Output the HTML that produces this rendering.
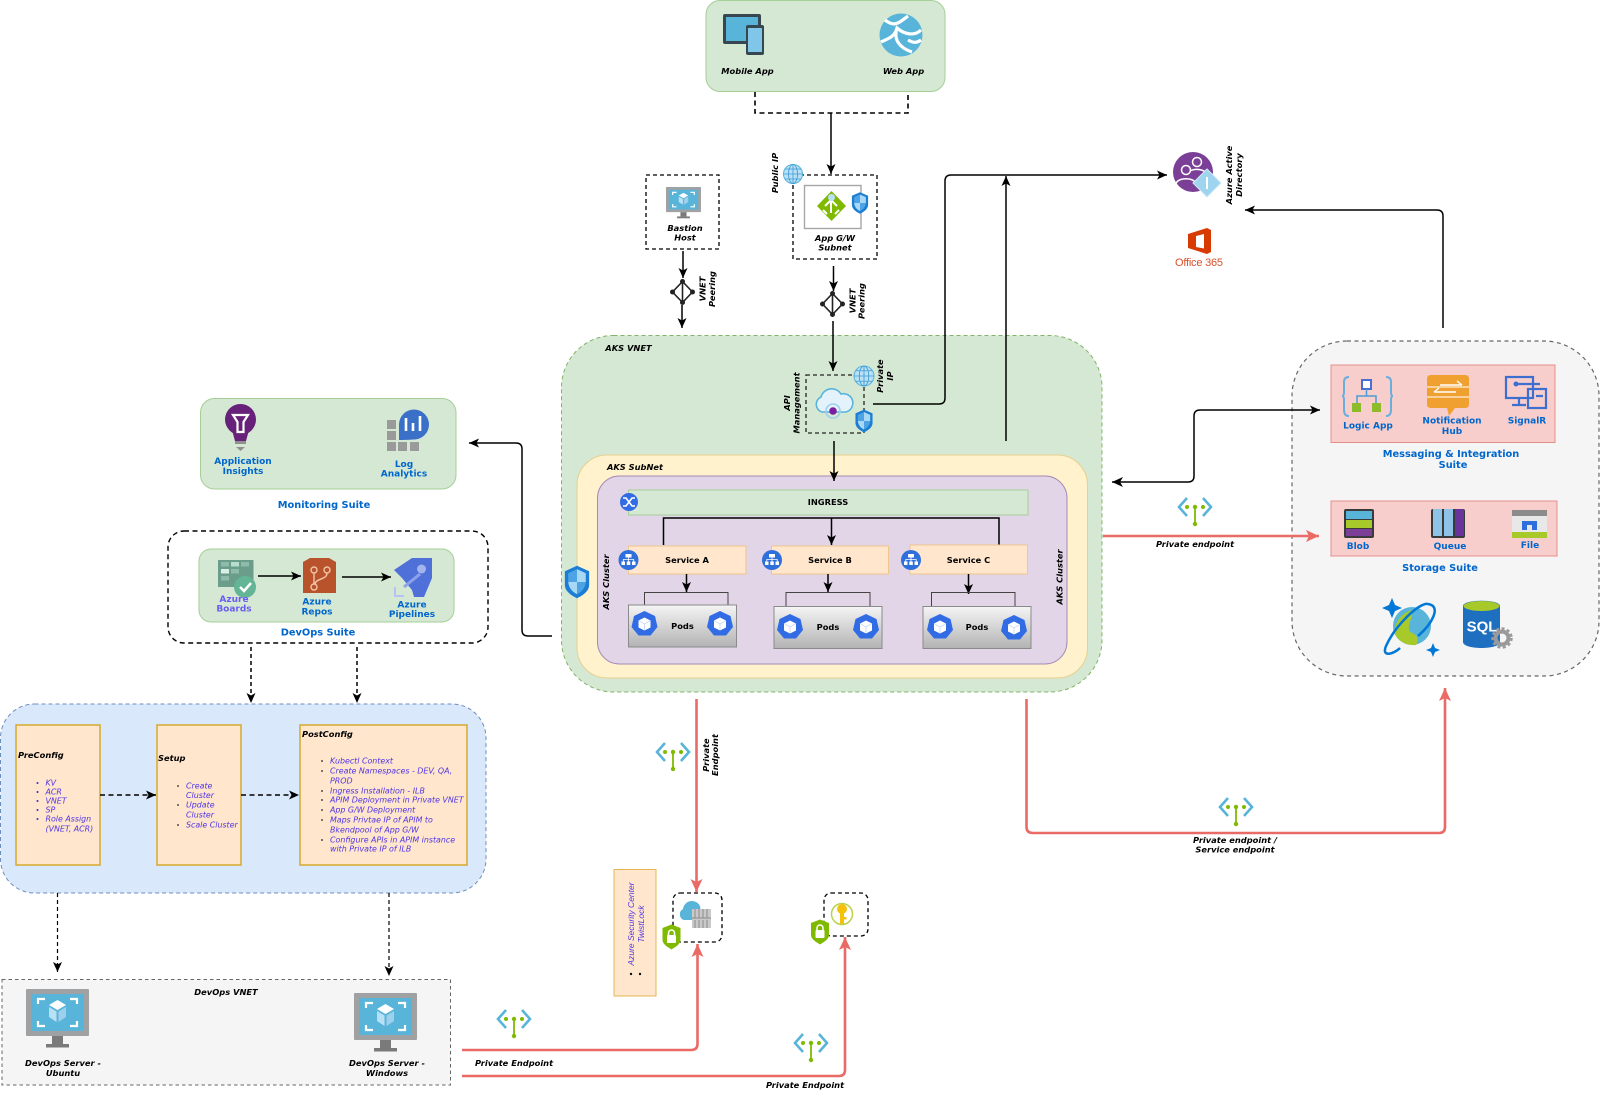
<!DOCTYPE html>
<html><head><meta charset="utf-8"><style>
html,body{margin:0;padding:0;background:#fff;width:1600px;height:1095px;overflow:hidden}
svg{display:block;filter:blur(.35px)}
text{font-family:"DejaVu Sans","Liberation Sans",sans-serif;dominant-baseline:central;text-anchor:middle}
.bi{font-weight:bold;font-style:italic;font-size:8.3px;fill:#000}
.b{font-weight:bold;font-size:8.3px;fill:#000}
.bl{font-weight:bold;font-size:9px;fill:#0066cc}
.su{font-weight:bold;font-size:9.8px;fill:#0066cc}
.li{font-style:italic;font-size:7.9px;fill:#4f35e6;text-anchor:start}
.bu{fill:#222}
.k{fill:none;stroke:#000;stroke-width:1.5}
.r{fill:none;stroke:#ea6b66;stroke-width:2.6}
.d{fill:none;stroke:#000;stroke-width:1.5;stroke-dasharray:4 3}
</style></head><body>
<svg width="1600" height="1095" viewBox="0 0 1600 1095" xmlns="http://www.w3.org/2000/svg">
<defs>
<marker id="a" markerUnits="userSpaceOnUse" markerWidth="12" markerHeight="11" refX="10" refY="5.5" orient="auto"><path d="M0,1 L10,5.5 L0,10 L2.5,5.5 Z" fill="#000"/></marker>
<marker id="ar" markerUnits="userSpaceOnUse" markerWidth="14" markerHeight="14" refX="13" refY="7" orient="auto"><path d="M0,1 L13,7 L0,13 L3,7 Z" fill="#ea6b66"/></marker>
<linearGradient id="pod" x1="0" y1="0" x2="0" y2="1"><stop offset="0" stop-color="#f5f5f5"/><stop offset="1" stop-color="#b3b3b3"/></linearGradient>
<g id="ep"><path d="M-8,-10 L-16,-1 L-8,8 M8,-10 L16,-1 L8,8" fill="none" stroke="#59b4d9" stroke-width="2.6"/><circle cx="-8" cy="-1" r="2" fill="#7fba00"/><circle cx="0" cy="-1" r="2.2" fill="#7fba00"/><circle cx="8" cy="-1" r="2" fill="#7fba00"/><path d="M0,-1 V16" stroke="#7fba00" stroke-width="1.8"/><circle cx="0" cy="16" r="2.2" fill="#7fba00"/></g>
<g id="globe"><circle r="9.5" fill="#b9e0f5" stroke="#59b4d9"/><path d="M-9.5,0 H9.5 M0,-9.5 V9.5 M-8,-5 H8 M-8,5 H8" stroke="#3e9bd6" stroke-width=".8"/><ellipse rx="4.5" ry="9.5" fill="none" stroke="#3e9bd6" stroke-width=".8"/></g>
<g id="sh"><path d="M0,-12 L9,-8 V2 C9,7 4,10 0,12 C-4,10 -9,7 -9,2 V-8 Z" fill="#1b7ed4"/><path d="M0,-9.5 L6.5,-6.5 V0 H0 Z M0,0 H-6.5 C-6,5 -3,7.5 0,9 Z" fill="#a9d8f5"/><path d="M0,-9.5 L-6.5,-6.5 V0 H0 Z M0,0 H6.5 C6,5 3,7.5 0,9 Z" fill="#4da3e3"/></g>
<g id="lock"><path d="M0,-12.5 L9,-9 V3 C9,7 4,10 0,12.5 C-4,10 -9,7 -9,3 V-9 Z" fill="#7fba00"/><rect x="-4.5" y="-2" width="9" height="8" rx="1" fill="#fff"/><path d="M-3,-2 V-4 A3,3 0 0 1 3,-4 V-2" fill="none" stroke="#fff" stroke-width="1.5"/></g>
<g id="hub"><circle r="10" fill="#2f6fdb"/><g fill="#fff"><rect x="-3" y="-6" width="6" height="3.5"/><rect x="-7" y="1.5" width="3.5" height="3.5"/><rect x="-1.7" y="1.5" width="3.5" height="3.5"/><rect x="3.5" y="1.5" width="3.5" height="3.5"/></g><path d="M0,-3 V1.5 M-5.2,1.5 V-.5 H5.2 V1.5" stroke="#fff" stroke-width=".8" fill="none"/></g>
<g id="pd"><polygon points="0,-13 10.5,-8 13,3 6,11.5 -6,11.5 -13,3 -10.5,-8" fill="#326ce5"/><path d="M0,-6.5 L6,-3.5 V3.5 L0,6.5 L-6,3.5 V-3.5 Z" fill="#fff"/><path d="M0,0 L6,-3.5 M0,0 L-6,-3.5 M0,0 V6.5" stroke="#b8cdf5" stroke-width=".7"/></g>
<g id="pe"><path d="M0,-10.5 L10,0 L0,10.5 L-10,0 Z" fill="none" stroke="#222" stroke-width="1.6"/><path d="M0,-10.5 V10.5" stroke="#222" stroke-width="1.6"/><g fill="#222"><circle cy="-10.5" r="2.5"/><circle cy="10.5" r="2.5"/><circle cx="-10" r="2.5"/><circle cx="10" r="2.5"/></g></g>
<g id="vm"><rect x="0" y="0" width="63" height="47" rx="1" fill="#a0a1a2"/><rect x="5" y="5" width="53" height="37" fill="#59b4d9"/><path d="M12,15 V10 H19 M44,10 H51 V15 M12,32 V37 H19 M51,32 V37 H44" fill="none" stroke="#fff" stroke-width="2.2"/><path d="M31.5,11 L40,16 L31.5,21 L23,16 Z" fill="#fff"/><path d="M23,18 L30.5,22.5 V33 L23,28 Z" fill="#b9e0f5"/><path d="M40,18 L32.5,22.5 V33 L40,28 Z" fill="#9dd0ec"/><rect x="26" y="47" width="11" height="8" fill="#7a7a7a"/><rect x="20" y="55" width="23" height="3.5" fill="#7a7a7a"/></g>
</defs>

<!-- apps -->
<rect x="706" y="0.5" width="239" height="91" rx="14" fill="#d5e8d4" stroke="#a5cf96"/>
<rect x="723" y="14" width="38" height="30" rx="2" fill="#37474f"/><rect x="726" y="17" width="32" height="24" fill="#59b4d9"/>
<rect x="746" y="25" width="18" height="30" rx="2" fill="#37474f"/><rect x="748" y="28" width="14" height="24" fill="#7fc6e8"/>
<circle cx="901" cy="35" r="21.5" fill="#59b4d9"/><path d="M885,20 C895,28 900,22 908,16 M881,42 C890,38 895,36 897,28 C905,35 915,36 921,30 M897,28 C893,40 900,48 912,52 M908,40 C915,44 918,42 921,40" fill="none" stroke="#fff" stroke-width="3.2"/>
<text class="bi" x="747.5" y="71">Mobile App</text><text class="bi" x="903.5" y="71">Web App</text>
<path d="M755,92 V113 H908 V92" fill="none" stroke="#000" stroke-width="1.6" stroke-dasharray="5 3.5"/>
<path class="k" d="M831,113 V174" marker-end="url(#a)"/>

<!-- bastion -->
<rect x="646" y="175" width="73" height="74" fill="none" stroke="#000" stroke-width="1.3" stroke-dasharray="4 3"/>
<use href="#vm" transform="translate(666,187) scale(.555,.535)"/>
<text class="bi" x="685" y="228">Bastion</text><text class="bi" x="685" y="237.500">Host</text>
<path class="k" d="M683,251 V278" marker-end="url(#a)"/><use href="#pe" x="682.500" y="292"/>
<path class="k" d="M682,305 V328" marker-end="url(#a)"/>
<text class="bi" transform="translate(702.500,289) rotate(-90)">VNET</text><text class="bi" transform="translate(712,289) rotate(-90)">Peering</text>

<!-- app gw -->
<rect x="793" y="175" width="84" height="84" fill="none" stroke="#000" stroke-width="1.3" stroke-dasharray="4 3"/>
<rect x="804.500" y="185.500" width="56.500" height="43" fill="#fff" stroke="#a6a6a6" stroke-width="1.4"/>
<path d="M831.500,191 L846,206 L831.500,221 L817,206 Z" fill="#7fba00"/><path d="M831,199 V213 M825,206 L831,200 L837,206 M823,210 L827,214 M839,210 L835,214" stroke="#fff" stroke-width="2" fill="none"/><circle cx="831.500" cy="197.500" r="3.500" fill="#b9e0f5"/>
<use href="#sh" transform="translate(860,203) scale(.9)"/>
<use href="#globe" x="793" y="174"/>
<text class="bi" transform="translate(775,173) rotate(-90)">Public IP</text>
<text class="bi" x="835" y="238">App G/W</text><text class="bi" x="835" y="247.500">Subnet</text>
<path class="k" d="M833.500,266 V291" marker-end="url(#a)"/><use href="#pe" x="832.500" y="304"/>
<text class="bi" transform="translate(852.500,301) rotate(-90)">VNET</text><text class="bi" transform="translate(861.500,301) rotate(-90)">Peering</text>

<!-- AKS VNET -->
<rect x="561.500" y="335.500" width="540.500" height="356.500" rx="52" fill="#d5e8d4" stroke="#82b366" stroke-dasharray="4 3"/>
<path class="k" d="M833,321 V371" marker-end="url(#a)"/>
<text class="bi" x="628.500" y="348">AKS VNET</text>
<rect x="806" y="375" width="58" height="58" fill="none" stroke="#222" stroke-width="1.3" stroke-dasharray="4 3"/>
<path d="M822,412 A8,8 0 0 1 821,397 A11,11 0 0 1 841,394 A9,9 0 0 1 846,412 Z" fill="#e4f3fb" stroke="#59b4d9" stroke-width="1.6"/><circle cx="833" cy="411" r="7" fill="none" stroke="#9dd0ec" stroke-width="1.6"/><circle cx="833" cy="411" r="3.800" fill="#7b1fa2"/>
<use href="#globe" transform="translate(864,376) scale(1.05)"/><use href="#sh" transform="translate(864,421) scale(.95)"/>
<text class="bi" transform="translate(787,403) rotate(-90)">API</text><text class="bi" transform="translate(796.500,403) rotate(-90)">Management</text>
<text class="bi" transform="translate(880,376) rotate(-90)">Private</text><text class="bi" transform="translate(890,376) rotate(-90)">IP</text>

<!-- subnet -->
<rect x="577" y="455" width="510.500" height="223" rx="30" fill="#fff2cc" stroke="#e6cf8f"/>
<text class="bi" x="635" y="467">AKS SubNet</text>
<rect x="597.500" y="476" width="469.500" height="188" rx="22" fill="#e1d5e7" stroke="#a58ab5"/>
<path class="k" d="M834,441 V481" marker-end="url(#a)"/>
<rect x="628.500" y="490" width="399.500" height="25" fill="#d5e8d4" stroke="#a5cf96"/>
<text class="b" x="828" y="502">INGRESS</text>
<circle cx="629" cy="502" r="9" fill="#326ce5"/><path d="M623,498 H626 L632,506 H635 M623,506 H626 L632,498 H635" fill="none" stroke="#fff" stroke-width="1.6"/>
<path class="k" d="M663.500,545 V518 H999 V545"/><path class="k" d="M831.500,518 V545" marker-end="url(#a)"/>
<g fill="#ffe6cc" stroke="#f0c78a"><rect x="628.500" y="546" width="117.500" height="28"/><rect x="771.500" y="546" width="117" height="28"/><rect x="910" y="545" width="117.500" height="29"/></g>
<text class="b" x="687" y="560">Service A</text><text class="b" x="830" y="560">Service B</text><text class="b" x="968.500" y="560">Service C</text>
<use href="#hub" x="628.500" y="560"/><use href="#hub" x="772" y="560"/><use href="#hub" x="911" y="560"/>
<path class="k" d="M686.500,574 V592" marker-end="url(#a)"/><path class="k" d="M828,574 V592" marker-end="url(#a)"/><path class="k" d="M968.500,574 V594" marker-end="url(#a)"/>
<g fill="none" stroke="#444" stroke-width="1"><path d="M644.500,605 V592.500 H728 V605"/><path d="M786,607 V592.500 H870 V607"/><path d="M931.500,607 V592.500 H1015 V607"/></g>
<g fill="url(#pod)" stroke="#8a8a8a"><rect x="628.500" y="605" width="108" height="42"/><rect x="774" y="606.500" width="108" height="42"/><rect x="923" y="606.500" width="108" height="42"/></g>
<text class="b" x="682.500" y="626">Pods</text><text class="b" x="828" y="627">Pods</text><text class="b" x="977" y="627">Pods</text>
<use href="#pd" x="644.500" y="624"/><use href="#pd" x="720" y="624"/><use href="#pd" x="790" y="627"/><use href="#pd" x="866" y="627"/><use href="#pd" x="940" y="627"/><use href="#pd" x="1014" y="628"/>
<text class="bi" transform="translate(606,582) rotate(-90)">AKS Cluster</text><text class="bi" transform="translate(1059.500,577) rotate(-90)">AKS Cluster</text>
<use href="#sh" transform="translate(577,582) scale(1.35)"/>

<!-- connectors right -->
<path class="k" d="M873,404 H939 Q945,404 945,398 V181 Q945,175 951,175 H1167" marker-end="url(#a)"/>
<path class="k" d="M1006,441 V176" marker-end="url(#a)"/>
<path class="k" d="M1443,328 V216 Q1443,210 1437,210 H1245" marker-end="url(#a)"/>

<!-- AAD -->
<circle cx="1193" cy="172" r="20" fill="#7b3f98"/><g fill="none" stroke="#fff" stroke-width="1.500"><circle cx="1186" cy="170" r="4.500"/><path d="M1176,184 C1177,177 1195,177 1196,184"/><circle cx="1197" cy="162" r="4.500"/><path d="M1190,171 C1195,168 1205,169 1208,175"/></g>
<path d="M1207,169 L1221,183 L1207,197 L1193,183 Z" fill="#9fd4ef" stroke="#cfeaf8"/><path d="M1207,177 V189" stroke="#fff" stroke-width="2"/>
<text class="bi" transform="translate(1229,175) rotate(-90)">Azure Active</text><text class="bi" transform="translate(1239,175) rotate(-90)">Directory</text>
<path d="M1188,234 L1207,228 L1211,230 V252 L1207,254 L1188,248 Z M1196,236 V247 L1204,248.500 V234 Z" fill="#d83b01" fill-rule="evenodd"/>
<text x="1199" y="263" style="font-family:'Liberation Sans',sans-serif;font-size:11px;fill:#d8502a" textLength="48">Office 365</text>

<!-- data container -->
<rect x="1292" y="341" width="307" height="335" rx="55" fill="#f5f5f5" stroke="#666" stroke-width="1.2" stroke-dasharray="4 3.500"/>
<path class="k" d="M1112,482 H1188 Q1194,482 1194,476 V416 Q1194,410 1200,410 H1320" marker-end="url(#a)"/>
<path d="M1123,477 L1112,482 L1123,487 L1120,482 Z" fill="#000"/>
<rect x="1331" y="365" width="224" height="77.500" fill="#f8cecc" stroke="#e58e8a"/>
<path d="M1349,377 Q1344,377 1344,382 V392 Q1344,396 1342,396 Q1344,396 1344,400 V410 Q1344,416 1349,416 M1386,377 Q1391,377 1391,382 V392 Q1391,396 1393,396 Q1391,396 1391,400 V410 Q1391,416 1386,416" fill="none" stroke="#6aaede" stroke-width="2"/>
<rect x="1362" y="380" width="9" height="9" fill="#fff" stroke="#4b6fd0" stroke-width="2"/><path d="M1366.500,389 V396 M1357,403 V396 H1376 V403" fill="none" stroke="#4b9bd4" stroke-width="1.500"/><rect x="1352" y="403" width="9" height="9" fill="#8dbb2a"/><rect x="1372" y="403" width="9" height="9" fill="#8dbb2a"/>
<text class="bl" x="1368" y="426.500">Logic App</text>
<path d="M1431,375 H1465 Q1469,375 1469,379 V404 Q1469,408 1465,408 H1455 L1449,416 L1447,408 H1431 Q1427,408 1427,404 V379 Q1427,375 1431,375 Z" fill="#f0a030"/><path d="M1427,387 H1469 M1427,397 H1469" stroke="#fbe3bd" stroke-width="1.500"/><path d="M1440,385 H1462 M1457,381 L1462,385 M1456,392 H1434 M1439,388 L1434,392" stroke="#fff" stroke-width="1.400" fill="none"/>
<text class="bl" x="1452" y="421.500">Notification</text><text class="bl" x="1452" y="432">Hub</text>
<g fill="none" stroke="#3d6fd1" stroke-width="2.200"><rect x="1506" y="377" width="27" height="21"/><path d="M1519,398 V404 M1512,405 H1526"/><rect x="1528" y="389" width="18" height="19"/><path d="M1516,384 H1540 M1536,396 H1543"/></g><circle cx="1516" cy="384" r="2.500" fill="#3d6fd1"/>
<text class="bl" x="1527" y="421.500">SignalR</text>
<text class="su" x="1451" y="454.500">Messaging &amp; Integration</text><text class="su" x="1453" y="465.500">Suite</text>

<rect x="1331" y="501" width="226" height="55" fill="#f8cecc" stroke="#e58e8a"/>
<rect x="1344" y="509" width="30" height="29" rx="2" fill="#3a3a3a"/><rect x="1346" y="511" width="26" height="8" fill="#59b4d9"/><rect x="1346" y="520" width="26" height="8" fill="#a8c92a"/><rect x="1346" y="529" width="26" height="7" fill="#7b3f98"/>
<text class="bl" x="1358" y="547">Blob</text>
<rect x="1431" y="509" width="34" height="29" rx="2" fill="#3a3a3a"/><rect x="1433" y="509" width="9" height="27" fill="#8ec2e6"/><rect x="1444" y="509" width="9" height="27" fill="#8ec2e6"/><rect x="1455" y="509" width="9" height="27" fill="#68339b"/>
<text class="bl" x="1450" y="547">Queue</text>
<rect x="1512" y="510" width="35" height="28" fill="#e8e8e8"/><rect x="1512" y="510" width="35" height="6" fill="#8b8b8b"/><rect x="1512" y="532" width="35" height="6" fill="#a8c92a"/><path d="M1522,530 V521 H1537 V530 H1532 V525 H1527 V530 Z" fill="#2f6fdb"/>
<text class="bl" x="1530" y="546">File</text>
<text class="su" x="1440" y="568.500">Storage Suite</text>

<!-- cosmos sql -->
<circle cx="1412" cy="626" r="19" fill="#59b4d9"/><path d="M1394,632 C1396,618 1405,612 1412,610 C1414,618 1406,624 1410,632 C1416,634 1420,638 1416,645 C1405,646 1397,640 1394,632 Z" fill="#a8c92a"/><path d="M1428,604 C1420,602 1396,624 1386,646 C1381,658 1394,654 1400,648 M1428,604 C1442,606 1432,624 1418,636" fill="none" stroke="#0078d7" stroke-width="2.500"/><path d="M1392,598 L1395,605 L1402,608 L1395,611 L1392,618 L1389,611 L1382,608 L1389,605 Z M1433,643 L1435,648 L1440,650 L1435,652 L1433,657 L1431,652 L1426,650 L1431,648 Z" fill="#0078d7"/>
<path d="M1463,606 C1463,599 1500,599 1500,606 V642 C1500,650 1463,650 1463,642 Z" fill="#1f6fc0"/><ellipse cx="1481.500" cy="606" rx="18" ry="5" fill="#a8c92a"/><text x="1482" y="627" style="font-size:15px;font-weight:bold;fill:#fff;font-family:'Liberation Sans',sans-serif">SQL</text>
<circle cx="1502" cy="638" r="6.500" fill="none" stroke="#9a9a9a" stroke-width="4"/><circle cx="1502" cy="638" r="9.500" fill="none" stroke="#9a9a9a" stroke-width="2.500" stroke-dasharray="3 2.500"/>

<!-- red connectors -->
<path class="r" d="M1103,536 H1319" marker-end="url(#ar)"/>
<use href="#ep" x="1195" y="508"/><text class="bi" x="1195" y="544">Private endpoint</text>
<path class="r" d="M1026.500,699 V827 Q1026.500,833 1033,833 H1439 Q1445,833 1445,827 V688" marker-end="url(#ar)"/>
<use href="#ep" x="1236" y="808"/><text class="bi" x="1235" y="840">Private endpoint /</text><text class="bi" x="1235" y="849.500">Service endpoint</text>
<path class="r" d="M696.500,699 V892" marker-end="url(#ar)"/>
<use href="#ep" x="673" y="753"/>
<text class="bi" transform="translate(706,755) rotate(-90)">Private</text><text class="bi" transform="translate(715,755) rotate(-90)">Endpoint</text>

<!-- twistlock -->
<rect x="614" y="869.500" width="42" height="126.500" fill="#ffe6cc" stroke="#e6b656"/>
<text transform="translate(631,924) rotate(-90)" style="font-family:'Liberation Sans',sans-serif;font-style:italic;font-size:8.500px;fill:#4f35e6">Azure Security Center</text>
<text transform="translate(641,924) rotate(-90)" style="font-family:'Liberation Sans',sans-serif;font-style:italic;font-size:8.500px;fill:#4f35e6">TwistLock</text>
<circle cx="631" cy="974" r="1.200" fill="#111"/><circle cx="640" cy="974" r="1.200" fill="#111"/>

<rect x="673" y="893" width="49" height="49" rx="7" fill="none" stroke="#000" stroke-width="1.300" stroke-dasharray="4 3"/>
<path d="M684,920 A6,6 0 0 1 683,909 A9,9 0 0 1 700,906 L702,920 Z" fill="#59b4d9"/><rect x="692" y="909" width="19" height="19" fill="#c9c9c9"/><path d="M692,918 H711 M695,909 V918 M699,909 V918 M703,909 V918 M707,909 V918 M695,920 V928 M699,920 V928 M703,920 V928 M707,920 V928" stroke="#8a8a8a"/>
<use href="#lock" x="671.500" y="937"/>
<rect x="824" y="893" width="44" height="43" rx="7" fill="none" stroke="#000" stroke-width="1.300" stroke-dasharray="4 3"/>
<circle cx="842" cy="914" r="10.500" fill="#fff" stroke="#b7d34a" stroke-width="1.500"/><circle cx="842" cy="909" r="5" fill="#f4c20d"/><rect x="840" y="909" width="4" height="15" fill="#f4c20d"/><rect x="844" y="917" width="2.500" height="2.500" fill="#f4c20d"/>
<use href="#lock" x="820" y="932"/>

<!-- monitoring -->
<rect x="200.500" y="398.500" width="255.500" height="90.500" rx="14" fill="#d5e8d4" stroke="#a5cf96"/>
<circle cx="240.500" cy="419.500" r="15.500" fill="#68217a"/><path d="M232,430 H249 L246,441 H235 Z" fill="#68217a"/><path d="M233,415 H248 L243.500,422 V432 H237.500 V422 Z" fill="none" stroke="#fff" stroke-width="2.200"/><rect x="235" y="441" width="11" height="3" fill="#8f8f8f"/><path d="M236,447 H245 L240.500,451 Z" fill="#8f8f8f"/>
<text class="bl" x="243" y="462">Application</text><text class="bl" x="243" y="472">Insights</text>
<g fill="#9a9a9a"><rect x="387" y="420" width="9" height="9"/><rect x="387" y="431" width="9" height="9"/><rect x="387" y="442" width="9" height="9"/><rect x="398" y="442" width="9" height="9"/><rect x="410" y="442" width="9" height="9"/></g>
<path d="M399,440 V424 A15,15 0 1 1 414,439.500 Q405,440 399,440 Z" fill="#3b70c9"/><path d="M406,418 V431 M413,423 V431 M420,416 V431" stroke="#fff" stroke-width="2.600"/>
<text class="bl" x="404" y="465">Log</text><text class="bl" x="404" y="474.500">Analytics</text>
<text class="su" x="324" y="505.500">Monitoring Suite</text>
<path class="k" d="M552,636 H528 Q522,636 522,630 V449 Q522,443 516,443 H469" marker-end="url(#a)"/>

<!-- devops suite -->
<rect x="168" y="531" width="320" height="112" rx="16" fill="none" stroke="#000" stroke-width="1.400" stroke-dasharray="5 3.500"/>
<rect x="199" y="549" width="255" height="73" rx="12" fill="#d5e8d4" stroke="#a5cf96"/>
<rect x="218" y="560" width="35.500" height="27" fill="#6a9e8a"/><g fill="#8fbcaa"><rect x="221" y="562" width="8" height="4.500"/><rect x="231" y="562" width="8" height="4.500" fill="#b9dcd0"/><rect x="241" y="562" width="8" height="4.500"/><rect x="221" y="569" width="8" height="4.500" fill="#d8f0e8"/><rect x="231" y="569" width="8" height="4.500"/><rect x="221" y="576" width="8" height="4.500"/></g>
<circle cx="245" cy="587" r="11" fill="#63b595"/><path d="M240,587 L244,591 L251,583" fill="none" stroke="#fff" stroke-width="2.500"/>
<text class="bl" style="fill:#6a5cf0" x="234" y="600">Azure</text><text class="bl" style="fill:#6a5cf0" x="234" y="609.500">Boards</text>
<path d="M303,562 L310,558 H329 L336,562 V593 H303 Z" fill="#b9532c"/><g fill="none" stroke="#f3c4a8" stroke-width="1.400"><circle cx="314" cy="570" r="3"/><circle cx="327" cy="570" r="3"/><circle cx="314" cy="587" r="3"/><path d="M314,573 V584 M327,573 C327,580 316,578 315,584"/></g>
<text class="bl" x="317" y="602.500">Azure</text><text class="bl" x="317" y="612.500">Repos</text>
<path d="M394,570 L412,558 H432 V578 L424,597 H414 L412,590 L402,578 Z" fill="#4f6fd9"/><circle cx="421.500" cy="569" r="4.500" fill="#a3b4ee"/><path d="M404,587 L420,574" stroke="#8ea2e8" stroke-width="3"/><path d="M395,587 V596 H404" fill="none" stroke="#b6c2f2" stroke-width="2"/>
<text class="bl" x="412" y="605.500">Azure</text><text class="bl" x="412" y="615">Pipelines</text>
<path class="k" d="M258,576 H301" marker-end="url(#a)"/><path class="k" d="M342,577 H391" marker-end="url(#a)"/>
<text class="su" x="318" y="633">DevOps Suite</text>
<path class="d" d="M251,647 V703" marker-end="url(#a)"/><path class="d" d="M357,647 V703" marker-end="url(#a)"/>

<!-- blue config -->
<rect x="0.500" y="704" width="485.500" height="189" rx="34" fill="#dae8fc" stroke="#6c8ebf" stroke-dasharray="4 3"/>
<g fill="#ffe6cc" stroke="#d6a92e" stroke-width="1.500"><rect x="16" y="725" width="84" height="140"/><rect x="157" y="725" width="84" height="140"/><rect x="300" y="725" width="167" height="140"/></g>
<path d="M100,795 H156" fill="none" stroke="#222" stroke-width="1.800" stroke-dasharray="5 3.500" marker-end="url(#a)"/><path d="M241,795 H299" fill="none" stroke="#222" stroke-width="1.800" stroke-dasharray="5 3.500" marker-end="url(#a)"/>
<text class="bi" style="text-anchor:start" x="18" y="755">PreConfig</text>
<text class="bi" style="text-anchor:start" x="158" y="758">Setup</text>
<text class="bi" style="text-anchor:start" x="302" y="734">PostConfig</text>
<g>
<text class="li" x="45.500" y="783">KV</text><text class="li" x="45.500" y="792">ACR</text><text class="li" x="45.500" y="801">VNET</text><text class="li" x="45.500" y="810">SP</text><text class="li" x="45.500" y="819">Role Assign</text><text class="li" x="45.500" y="829">(VNET, ACR)</text>
<text class="li" x="186" y="786">Create</text><text class="li" x="186" y="795.500">Cluster</text><text class="li" x="186" y="805">Update</text><text class="li" x="186" y="815">Cluster</text><text class="li" x="186" y="825">Scale Cluster</text>
<text class="li" x="330" y="761">Kubectl Context</text><text class="li" x="330" y="771">Create Namespaces - DEV, QA,</text><text class="li" x="330" y="781">PROD</text><text class="li" x="330" y="791">Ingress Installation - ILB</text><text class="li" x="330" y="800">APIM Deployment in Private VNET</text><text class="li" x="330" y="810">App G/W Deployment</text><text class="li" x="330" y="820">Maps Privtae IP of APIM to</text><text class="li" x="330" y="830">Bkendpool of App G/W</text><text class="li" x="330" y="840">Configure APIs in APIM instance</text><text class="li" x="330" y="849">with Private IP of ILB</text>
</g>
<g fill="#3a2ad0"><circle cx="37.500" cy="783" r="1"/><circle cx="37.500" cy="792" r="1"/><circle cx="37.500" cy="801" r="1"/><circle cx="37.500" cy="810" r="1"/><circle cx="37.500" cy="819" r="1"/></g>
<g fill="#222"><circle cx="178" cy="786" r=".9"/><circle cx="178" cy="805" r=".9"/><circle cx="178" cy="825" r=".9"/><circle cx="322" cy="761" r=".9"/><circle cx="322" cy="771" r=".9"/><circle cx="322" cy="791" r=".9"/><circle cx="322" cy="800" r=".9"/><circle cx="322" cy="810" r=".9"/><circle cx="322" cy="820" r=".9"/><circle cx="322" cy="840" r=".9"/></g>

<!-- devops vnet -->
<path class="d" style="stroke-width:1.200" d="M57.500,893 V972" marker-end="url(#a)"/><path class="d" style="stroke-width:1.200" d="M389,893 V976" marker-end="url(#a)"/>
<rect x="2" y="979.500" width="448.500" height="105.500" fill="#f5f5f5" stroke="#666" stroke-dasharray="3.500 3"/>
<text class="bi" x="226" y="992">DevOps VNET</text>
<use href="#vm" x="26" y="989"/><use href="#vm" x="354" y="993"/>
<text class="bi" x="63" y="1063">DevOps Server -</text><text class="bi" x="63" y="1073">Ubuntu</text>
<text class="bi" x="387" y="1063">DevOps Server -</text><text class="bi" x="387" y="1073">Windows</text>
<path class="r" d="M462,1050 H691 Q697.500,1050 697.500,1044 V944" marker-end="url(#ar)"/>
<path class="r" d="M462,1076 H839 Q845,1076 845,1070 V937" marker-end="url(#ar)"/>
<use href="#ep" x="514" y="1020"/><use href="#ep" x="811" y="1044"/>
<text class="bi" x="514" y="1063">Private Endpoint</text><text class="bi" x="805" y="1085">Private Endpoint</text>
</svg>
</body></html>
